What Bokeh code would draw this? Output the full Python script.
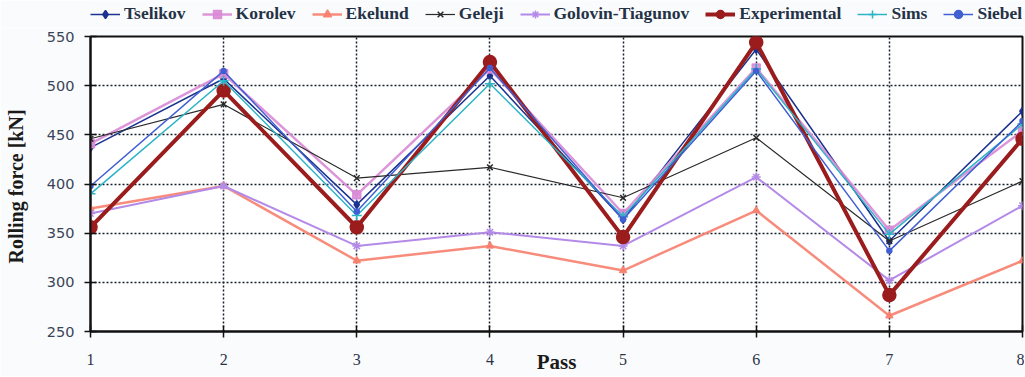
from bokeh.plotting import figure
from bokeh.layouts import column
from bokeh.models import Legend, LegendItem, FixedTicker, Range1d
from bokeh.embed import file_html
from bokeh.resources import INLINE

passes = [1, 2, 3, 4, 5, 6, 7, 8]
tselikov = [437, 507, 379, 510, 364, 537, 342, 474]
korolev = [441, 512, 389, 517, 370, 518, 353, 454]
ekelund = [375, 398, 322, 337, 312, 373, 266, 322]
geleji = [446, 481, 406, 417, 386, 447, 342, 403]
golovin = [370, 398, 337, 351, 337, 407, 302, 378]
experimental = [356, 495, 356, 524, 346, 544, 287, 446]
sims = [390, 505, 368, 502, 367, 517, 349, 461]
siebel = [398, 515, 372, 518, 364, 515, 332, 464]
y_ticks = [250, 300, 350, 400, 450, 500, 550]

SERIF = "Liberation Serif"
BG = "#fafbfd"
W = 1024

series = [
    ("Tselikov", tselikov, "#1c3390", 1.5, "diamond", 8, 1.0),
    ("Korolev", korolev, "#d98ad6", 2.5, "square", 8, 0.9),
    ("Ekelund", ekelund, "#f77f6e", 2.5, "triangle", 7, 0.9),
    ("Geleji", geleji, "#2a2a2a", 1.2, "x", 8, 1.0),
    ("Golovin-Tiagunov", golovin, "#b48ae8", 2.0, "asterisk", 9, 1.0),
    ("Experimental", experimental, "#9a1c1c", 4.0, "circle", 13, 1.0),
    ("Sims", sims, "#2ab4c6", 1.5, "cross", 10, 1.0),
    ("Siebel", siebel, "#3f5fd2", 1.5, "circle", 5, 1.0),
]

# ---- main plot ----
p = figure(width=W, height=348, output_backend="svg", toolbar_location=None,
           x_range=Range1d(1, 8), y_range=Range1d(250, 550),
           min_border_left=90, min_border_right=2, min_border_top=8, min_border_bottom=45,
           background_fill_color="white", border_fill_color=BG)

p.outline_line_color = "#111111"
p.outline_line_width = 2

for ax in (p.xaxis[0], p.yaxis[0]):
    ax.axis_line_color = "#111111"
    ax.axis_line_width = 2
    ax.major_tick_in = 6
    ax.major_tick_out = 6
    ax.major_tick_line_color = "#111111"
    ax.major_tick_line_width = 1.5
    ax.minor_tick_line_color = None
    ax.axis_label_text_font = SERIF
    ax.axis_label_text_font_style = "bold"
    ax.axis_label_text_color = "#1a1a1a"

p.xaxis.ticker = FixedTicker(ticks=passes)
p.yaxis.ticker = FixedTicker(ticks=y_ticks)

p.xaxis.major_label_text_font = SERIF
p.xaxis.major_label_text_font_size = "16px"
p.xaxis.major_label_text_color = "#2a3448"
p.xaxis.major_label_standoff = 16
p.xaxis.axis_label = "Pass"
p.xaxis.axis_label_text_font_size = "21px"
p.xaxis.axis_label_standoff = -18

p.yaxis.major_label_text_font = "DejaVu Sans"
p.yaxis.major_label_text_font_size = "14.5px"
p.yaxis.major_label_text_color = "#3a4456"
p.yaxis.major_label_standoff = 10
p.yaxis.axis_label = "Rolling force  [kN]"
p.yaxis.axis_label_text_font_size = "20px"
p.yaxis.axis_label_standoff = 17

for g in (p.xgrid[0], p.ygrid[0]):
    g.grid_line_color = "#15202e"
    g.grid_line_dash = "2 2"
    g.grid_line_width = 1.5

for name, vals, color, lw, marker, size, alpha in series:
    p.line(passes, vals, line_color=color, line_width=lw, line_alpha=alpha)
    p.scatter(passes, vals, marker=marker, size=size, fill_color=color,
              line_color=color, line_width=1.5, alpha=alpha)

# ---- legend strip above the plot ----
lg = figure(width=W, height=28, output_backend="svg", toolbar_location=None,
            x_range=Range1d(0, 1), y_range=Range1d(0, 1),
            x_axis_location=None, y_axis_location=None,
            min_border_left=90, min_border_right=2,
            min_border_top=0, min_border_bottom=0,
            background_fill_color=BG, border_fill_color=BG)
lg.outline_line_color = None
lg.grid.visible = False

items = []
for name, vals, color, lw, marker, size, alpha in series:
    r1 = lg.line(x=[-5, -4], y=[-5, -4], line_color=color, line_width=lw, line_alpha=alpha)
    r2 = lg.scatter(x=[-5], y=[-5], marker=marker, size=min(size, 10), fill_color=color,
                    line_color=color, line_width=1.5, alpha=alpha)
    items.append(LegendItem(label=name, renderers=[r1, r2]))

legend = Legend(items=items, orientation="horizontal", location=(0, 4))
legend.label_text_font = SERIF
legend.label_text_font_style = "bold"
legend.label_text_font_size = "17.5px"
legend.label_text_color = "#243246"
legend.glyph_width = 30
legend.glyph_height = 20
legend.label_height = 20
legend.label_standoff = 4
legend.spacing = 16
legend.padding = 0
legend.margin = 0
legend.border_line_color = None
legend.background_fill_alpha = 0
lg.add_layout(legend, "center")

layout = column(lg, p, spacing=0)
open("out.html", "w").write(file_html(layout, INLINE))
